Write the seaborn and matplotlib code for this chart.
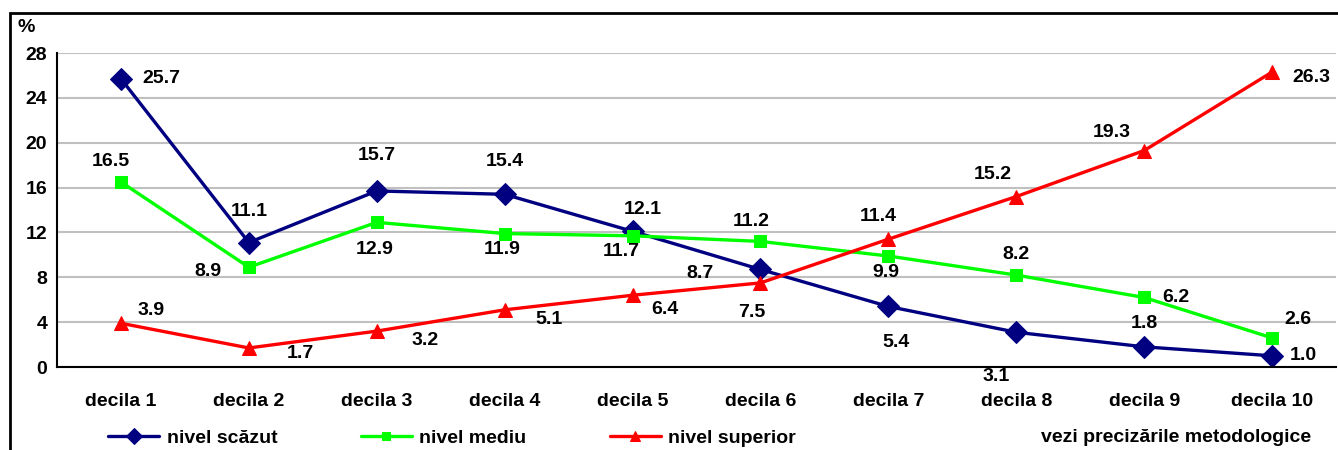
import matplotlib
matplotlib.use('Agg')
import matplotlib.pyplot as plt
import matplotlib.patches as patches
import pandas as pd
import seaborn as sns

# Data
deciles = ['decila 1', 'decila 2', 'decila 3', 'decila 4', 'decila 5',
           'decila 6', 'decila 7', 'decila 8', 'decila 9', 'decila 10']
scazut = [25.7, 11.1, 15.7, 15.4, 12.1, 8.7, 5.4, 3.1, 1.8, 1.0]
mediu = [16.5, 8.9, 12.9, 11.9, 11.7, 11.2, 9.9, 8.2, 6.2, 2.6]
superior = [3.9, 1.7, 3.2, 5.1, 6.4, 7.5, 11.4, 15.2, 19.3, 26.3]
series_names = ['nivel scăzut', 'nivel mediu', 'nivel superior']
y_ticks = [0, 4, 8, 12, 16, 20, 24, 28]

# label offsets in pixels (dx, dy up)
off_scazut = [(40, 0), (0, 31), (0, 35), (0, 33), (10, 22), (-60, -4),
              (8, -36), (-20, -44), (0, 23), (31, 0)]
off_mediu = [(-10, 20), (-41, -4), (-2, -27), (-2, -16), (-11, -16), (-9, 20),
             (-2, -17), (0, 21), (32, 0), (26, 18)]
off_superior = [(30, 13), (52, -6), (48, -9), (44, -10), (32, -14), (-9, -30),
                (-10, 23), (-23, 22), (-32, 18), (39, -5)]

sns.set_style('white')
plt.rcParams['font.family'] = ['Liberation Sans', 'DejaVu Sans']
plt.rcParams['font.weight'] = 'bold'
plt.rcParams['text.color'] = 'black'
plt.rcParams['xtick.color'] = 'black'
plt.rcParams['ytick.color'] = 'black'

df = pd.DataFrame({
    'x': list(range(len(deciles))) * 3,
    'value': scazut + mediu + superior,
    'serie': [s for s in series_names for _ in deciles],
})

colors = {'nivel scăzut': '#000080', 'nivel mediu': '#00FF00', 'nivel superior': '#FF0000'}
markers = {'nivel scăzut': 'D', 'nivel mediu': 's', 'nivel superior': '^'}
msizes = {'nivel scăzut': 11, 'nivel mediu': 8, 'nivel superior': 10}

fig = plt.figure(figsize=(13.38, 4.5), dpi=100)
ax = fig.add_axes([0.0426, 0.1844, 0.9559, 0.6978])

for name in series_names:
    sub = df[df['serie'] == name]
    sns.lineplot(data=sub, x='x', y='value', ax=ax, color=colors[name],
                 marker=markers[name], markersize=msizes[name],
                 markeredgecolor=colors[name], linewidth=2.4, label=name,
                 legend=False)

px = 0.72
fs = 14
for vals, offs in [(scazut, off_scazut), (mediu, off_mediu), (superior, off_superior)]:
    for i, (v, (dx, dy)) in enumerate(zip(vals, offs)):
        ax.annotate(f'{v:.1f}', (i, v), xytext=(dx * px, dy * px),
                    textcoords='offset points', ha='center', va='center',
                    fontsize=fs, fontweight='bold', color='black')

ax.set_xlim(-0.5, len(deciles) - 0.5)
ax.set_ylim(0, 28)
ax.set_yticks(y_ticks)
ax.set_yticklabels([str(t) for t in y_ticks], fontsize=fs, fontweight='bold')
ax.set_xticks(range(len(deciles)))
ax.set_xticklabels(deciles, fontsize=fs, fontweight='bold')
ax.set_xticks([i - 0.5 for i in range(len(deciles) + 1)], minor=True)
ax.tick_params(axis='x', which='major', length=0, pad=19)
ax.tick_params(axis='x', which='minor', length=6, width=1.5, color='black', direction='out')
ax.tick_params(axis='y', length=5, width=1.5, color='black', direction='out', pad=2)
ax.set_xlabel('')
ax.set_ylabel('')
ax.yaxis.grid(True, color='#C0C0C0', linewidth=1.5)
ax.set_axisbelow(True)
for s in ['top', 'right']:
    ax.spines[s].set_visible(False)
for s in ['left', 'bottom']:
    ax.spines[s].set_color('black')
    ax.spines[s].set_linewidth(1.5)

handles, labels = ax.get_legend_handles_labels()
fig.legend(handles, labels, loc='center', bbox_to_anchor=(0.338, 0.027), ncol=3,
           frameon=False, handlelength=2.6, columnspacing=4.3, markerscale=0.75,
           handletextpad=0.4, prop={'size': fs, 'weight': 'bold'})

fig.text(0.013, 0.94, '%', fontsize=fs, fontweight='bold', va='center')
fig.text(0.98, 0.027, 'vezi precizările metodologice', fontsize=fs,
         fontweight='bold', ha='right', va='center')

frame = patches.Rectangle((0.0075, -0.1), 1.1, 1.071, transform=fig.transFigure,
                          fill=False, edgecolor='black', linewidth=2, clip_on=False)
fig.patches.append(frame)

fig.savefig('out.png', dpi=100)
